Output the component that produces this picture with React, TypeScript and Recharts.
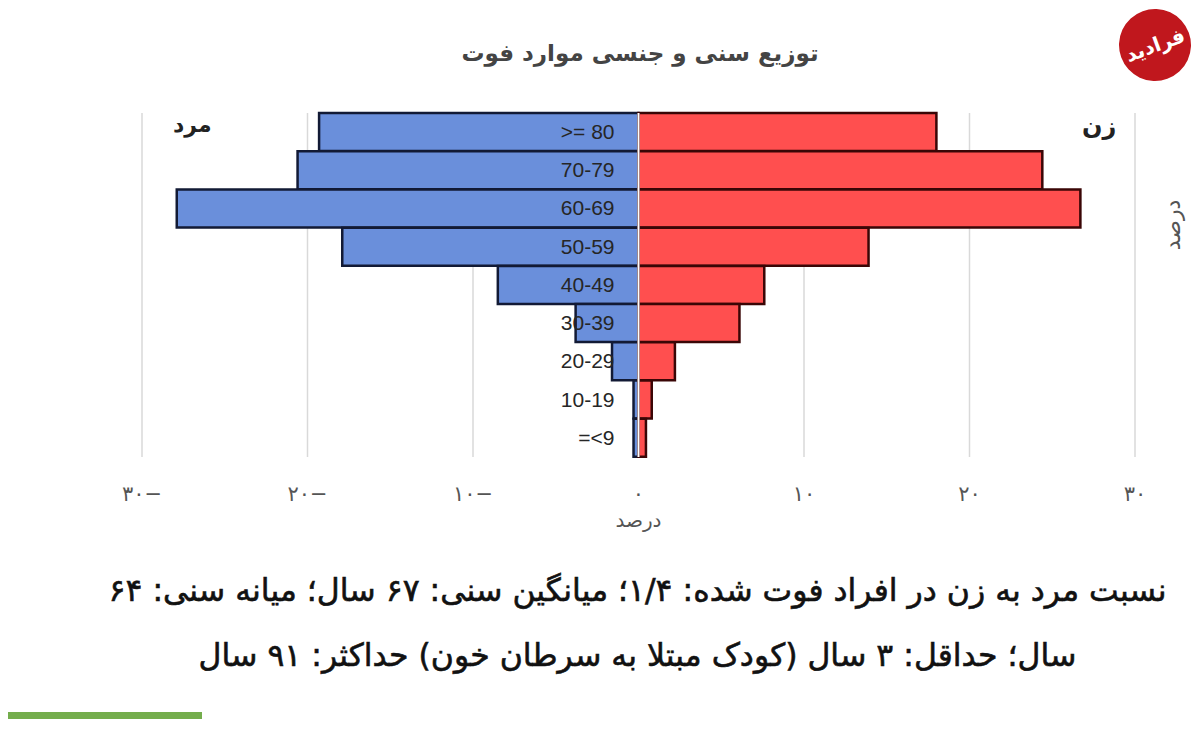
import React from "react";
import {
  Bar,
  BarChart,
  CartesianGrid,
  Label,
  LabelList,
  ReferenceLine,
  XAxis,
  YAxis,
} from "recharts";

const AGE_GROUPS = [">= 80", "70-79", "60-69", "50-59", "40-49", "30-39", "20-29", "10-19", "=<9"];
const MALE_PCT = [19.3, 20.6, 27.9, 17.9, 8.5, 3.8, 1.6, 0.3, 0.3];
const FEMALE_PCT = [18.0, 24.4, 26.7, 13.9, 7.6, 6.1, 2.2, 0.8, 0.45];
const X_TICKS = [-30, -20, -10, 0, 10, 20, 30];

const TITLE = "توزیع سنی و جنسی موارد فوت";
const NOTE_1 = "نسبت مرد به زن در افراد فوت شده: ۱/۴؛ میانگین سنی: ۶۷ سال؛ میانه سنی: ۶۴";
const NOTE_2 = "سال؛ حداقل: ۳ سال (کودک مبتلا به سرطان خون) حداکثر: ۹۱ سال";

const rows = AGE_GROUPS.map((age, i) => ({
  age,
  male: -MALE_PCT[i],
  female: FEMALE_PCT[i],
}));

const FA_DIGITS = "۰۱۲۳۴۵۶۷۸۹";
const toFa = (n: number) => {
  const s = String(Math.abs(n)).replace(/\d/g, (d) => FA_DIGITS[Number(d)]);
  return n < 0 ? s + "−" : s;
};

const ARABIC_FONT = "'DejaVu Sans', 'Noto Sans', sans-serif";

function XTick(props: any) {
  const { x, y, payload } = props;
  return (
    <text x={x} y={y} dy={16} textAnchor="middle" fill="#555" fontSize={21} fontFamily={ARABIC_FONT}>
      {toFa(payload.value)}
    </text>
  );
}

function AgeLabel(props: any) {
  const { x, y, width, height, value } = props;
  const center = Math.max(x, x + width);
  return (
    <text
      x={center - 24}
      y={y + height / 2}
      dy={7}
      textAnchor="end"
      direction="ltr"
      style={{ unicodeBidi: "plaintext" }}
      fill="#262626"
      fontSize={21}
      fontFamily="'Liberation Sans', Arial, sans-serif"
    >
      {value}
    </text>
  );
}

const noteStyle: React.CSSProperties = {
  position: "absolute",
  left: 0,
  width: 1275,
  textAlign: "center",
  fontSize: 31.5,
  color: "#111",
  direction: "rtl",
  whiteSpace: "nowrap",
  WebkitTextStroke: "0.6px #111",
};

export default function App() {
  return (
    <div
      style={{
        position: "relative",
        width: 1200,
        height: 737,
        margin: -8,
        overflow: "hidden",
        background: "#fff",
        fontFamily: ARABIC_FONT,
      }}
    >
      <div
        style={{
          position: "absolute",
          left: 0,
          top: 40,
          width: 1280,
          textAlign: "center",
          fontSize: 23,
          fontWeight: "bold",
          color: "#444",
          direction: "rtl",
        }}
      >
        {TITLE}
      </div>

      <BarChart
        width={1200}
        height={560}
        data={rows}
        layout="vertical"
        stackOffset="sign"
        barCategoryGap={0}
        margin={{ top: 113, right: 65, bottom: 63, left: 142 }}
        style={{ position: "absolute", left: 0, top: 0 }}
      >
        <CartesianGrid horizontal={false} stroke="#d9d9d9" strokeWidth={1.5} />
        <XAxis
          type="number"
          domain={[-30, 30]}
          ticks={X_TICKS}
          axisLine={false}
          tickLine={false}
          tick={<XTick />}
          tickMargin={22}
          height={40}
          interval={0}
        >
          <Label
            value="درصد"
            position="bottom"
            offset={16}
            fill="#555"
            fontSize={20}
            fontFamily={ARABIC_FONT}
          />
        </XAxis>
        <YAxis type="category" dataKey="age" hide />
        <Bar
          dataKey="male"
          stackId="s"
          fill="#6a8fdb"
          stroke="#121a35"
          strokeWidth={2.5}
          isAnimationActive={false}
        >
          <LabelList dataKey="age" content={<AgeLabel />} />
        </Bar>
        <Bar
          dataKey="female"
          stackId="s"
          fill="#ff4f4f"
          stroke="#3a0606"
          strokeWidth={2.5}
          isAnimationActive={false}
        />
        <ReferenceLine x={0} stroke="#ffffff" strokeWidth={2} />
      </BarChart>

      <div
        style={{
          position: "absolute",
          left: 173,
          top: 112,
          fontSize: 22,
          fontWeight: "bold",
          color: "#222",
          direction: "rtl",
        }}
      >
        مرد
      </div>
      <div
        style={{
          position: "absolute",
          left: 1082,
          top: 112,
          fontSize: 24,
          fontWeight: "bold",
          color: "#222",
          direction: "rtl",
        }}
      >
        زن
      </div>
      <div
        style={{
          position: "absolute",
          left: 1172,
          top: 225,
          transform: "translate(-50%, -50%) rotate(-90deg)",
          fontSize: 22,
          color: "#555",
          whiteSpace: "nowrap",
          direction: "rtl",
        }}
      >
        درصد
      </div>

      <div style={{ ...noteStyle, top: 572 }}>{NOTE_1}</div>
      <div style={{ ...noteStyle, top: 637 }}>{NOTE_2}</div>

      {/* watermark logo */}
      <div
        style={{
          position: "absolute",
          left: 1119,
          top: 9,
          width: 72,
          height: 72,
          borderRadius: "50%",
          background: "#c0171d",
          color: "#fff",
          fontWeight: "bold",
          fontSize: 20,
          display: "flex",
          alignItems: "center",
          justifyContent: "center",
          transform: "rotate(-20deg)",
        }}
      >
        فرادید
      </div>

      {/* slide decoration */}
      <div style={{ position: "absolute", left: 0, top: 712, width: 202, height: 7, background: "#74ad4c" }} />
      <div style={{ position: "absolute", left: 0, top: 712, width: 6, height: 30, background: "#74ad4c" }} />
    </div>
  );
}
